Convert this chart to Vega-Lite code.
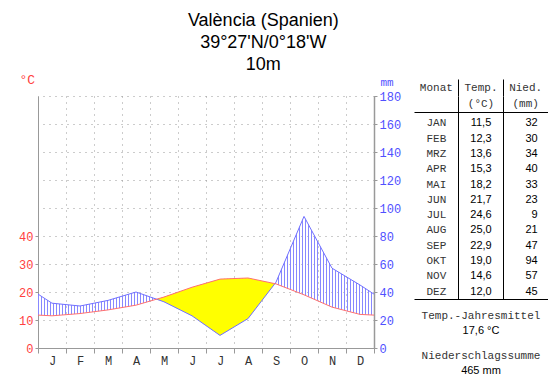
{
"$schema":"https://vega.github.io/schema/vega-lite/v6.json",
"padding":{"left":18,"top":12,"right":0,"bottom":0},
"bounds":"flush",
"spacing":40,
"title":{"text":["València (Spanien)","39°27'N/0°18'W","10m"],"font":"Liberation Sans","fontSize":18,"fontWeight":"normal","lineHeight":22,"color":"#000","anchor":"middle","dx":-20,"offset":-1},
"config":{
 "view":{"stroke":null},
 "font":"Liberation Sans",
 "locale":{"number":{"decimal":",","thousands":".","grouping":[3],"currency":["","\u00a0€"]}},
 "axis":{"labelFont":"Liberation Mono","labelFontSize":12,"domainColor":"#999","tickColor":"#999","titleFont":"Liberation Mono","titleFontWeight":"normal"}
},
"datasets":{
 "klima":[
  {"Monat":"Rand","nr":0.5,"temp":11.75,"nied":38.5,"typ":"Rand"},
  {"Monat":"JAN","nr":1,"temp":11.5,"nied":32,"typ":"Monat"},
  {"Monat":"FEB","nr":2,"temp":12.3,"nied":30,"typ":"Monat"},
  {"Monat":"MRZ","nr":3,"temp":13.6,"nied":34,"typ":"Monat"},
  {"Monat":"APR","nr":4,"temp":15.3,"nied":40,"typ":"Monat"},
  {"Monat":"Schnitt","nr":4.73,"temp":17.43,"nied":34.86,"typ":"Schnitt"},
  {"Monat":"MAI","nr":5,"temp":18.2,"nied":33,"typ":"Monat"},
  {"Monat":"JUN","nr":6,"temp":21.7,"nied":23,"typ":"Monat"},
  {"Monat":"JUL","nr":7,"temp":24.6,"nied":9,"typ":"Monat"},
  {"Monat":"AUG","nr":8,"temp":25.0,"nied":21,"typ":"Monat"},
  {"Monat":"Schnitt","nr":8.96,"temp":22.98,"nied":45.96,"typ":"Schnitt"},
  {"Monat":"SEP","nr":9,"temp":22.9,"nied":47,"typ":"Monat"},
  {"Monat":"OKT","nr":10,"temp":19.0,"nied":94,"typ":"Monat"},
  {"Monat":"NOV","nr":11,"temp":14.6,"nied":57,"typ":"Monat"},
  {"Monat":"DEZ","nr":12,"temp":12.0,"nied":45,"typ":"Monat"},
  {"Monat":"Rand","nr":12.5,"temp":11.75,"nied":38.5,"typ":"Rand"}
 ],
 "kopf":[
  {"spalte":"Monat","kopf":"Monat\n"},
  {"spalte":"Temp.","kopf":"Temp.\n(°C)"},
  {"spalte":"Nied.","kopf":"Nied.\n(mm)"}
 ],
 "summe":[
  {"k":"T","titel":"Temp.-Jahresmittel","wert":"17,6 °C"},
  {"k":"N","titel":"Niederschlagssumme","wert":"465 mm"}
 ]
},
"hconcat":[
 {
  "width":336,"height":252,
  "data":{"name":"klima"},
  "transform":[{"calculate":"datum.temp * 2","as":"temp_mm"}],
  "resolve":{"scale":{"y":"independent"},"axis":{"x":"independent"}},
  "layer":[
   {"mark":{"type":"area","stroke":null,"fill":{"gradient":"linear","x1":0,"y1":0,"x2":1,"y2":0,"stops":[
{"offset":0,"color":"#88f"},{"offset":0.00298,"color":"#88f"},{"offset":0.00298,"color":"transparent"},{"offset":0.00893,"color":"transparent"},
{"offset":0.00893,"color":"#88f"},{"offset":0.01191,"color":"#88f"},{"offset":0.01191,"color":"transparent"},{"offset":0.01786,"color":"transparent"},
{"offset":0.01786,"color":"#88f"},{"offset":0.02084,"color":"#88f"},{"offset":0.02084,"color":"transparent"},{"offset":0.02679,"color":"transparent"},
{"offset":0.02679,"color":"#88f"},{"offset":0.02977,"color":"#88f"},{"offset":0.02977,"color":"transparent"},{"offset":0.03571,"color":"transparent"},
{"offset":0.03571,"color":"#88f"},{"offset":0.03869,"color":"#88f"},{"offset":0.03869,"color":"transparent"},{"offset":0.04464,"color":"transparent"},
{"offset":0.04464,"color":"#88f"},{"offset":0.04762,"color":"#88f"},{"offset":0.04762,"color":"transparent"},{"offset":0.05357,"color":"transparent"},
{"offset":0.05357,"color":"#88f"},{"offset":0.05655,"color":"#88f"},{"offset":0.05655,"color":"transparent"},{"offset":0.0625,"color":"transparent"},
{"offset":0.0625,"color":"#88f"},{"offset":0.06548,"color":"#88f"},{"offset":0.06548,"color":"transparent"},{"offset":0.07143,"color":"transparent"},
{"offset":0.07143,"color":"#88f"},{"offset":0.07441,"color":"#88f"},{"offset":0.07441,"color":"transparent"},{"offset":0.08036,"color":"transparent"},
{"offset":0.08036,"color":"#88f"},{"offset":0.08334,"color":"#88f"},{"offset":0.08334,"color":"transparent"},{"offset":0.08929,"color":"transparent"},
{"offset":0.08929,"color":"#88f"},{"offset":0.09227,"color":"#88f"},{"offset":0.09227,"color":"transparent"},{"offset":0.09821,"color":"transparent"},
{"offset":0.09821,"color":"#88f"},{"offset":0.10119,"color":"#88f"},{"offset":0.10119,"color":"transparent"},{"offset":0.10714,"color":"transparent"},
{"offset":0.10714,"color":"#88f"},{"offset":0.11012,"color":"#88f"},{"offset":0.11012,"color":"transparent"},{"offset":0.11607,"color":"transparent"},
{"offset":0.11607,"color":"#88f"},{"offset":0.11905,"color":"#88f"},{"offset":0.11905,"color":"transparent"},{"offset":0.125,"color":"transparent"},
{"offset":0.125,"color":"#88f"},{"offset":0.12798,"color":"#88f"},{"offset":0.12798,"color":"transparent"},{"offset":0.13393,"color":"transparent"},
{"offset":0.13393,"color":"#88f"},{"offset":0.13691,"color":"#88f"},{"offset":0.13691,"color":"transparent"},{"offset":0.14286,"color":"transparent"},
{"offset":0.14286,"color":"#88f"},{"offset":0.14584,"color":"#88f"},{"offset":0.14584,"color":"transparent"},{"offset":0.15179,"color":"transparent"},
{"offset":0.15179,"color":"#88f"},{"offset":0.15477,"color":"#88f"},{"offset":0.15477,"color":"transparent"},{"offset":0.16071,"color":"transparent"},
{"offset":0.16071,"color":"#88f"},{"offset":0.16369,"color":"#88f"},{"offset":0.16369,"color":"transparent"},{"offset":0.16964,"color":"transparent"},
{"offset":0.16964,"color":"#88f"},{"offset":0.17262,"color":"#88f"},{"offset":0.17262,"color":"transparent"},{"offset":0.17857,"color":"transparent"},
{"offset":0.17857,"color":"#88f"},{"offset":0.18155,"color":"#88f"},{"offset":0.18155,"color":"transparent"},{"offset":0.1875,"color":"transparent"},
{"offset":0.1875,"color":"#88f"},{"offset":0.19048,"color":"#88f"},{"offset":0.19048,"color":"transparent"},{"offset":0.19643,"color":"transparent"},
{"offset":0.19643,"color":"#88f"},{"offset":0.19941,"color":"#88f"},{"offset":0.19941,"color":"transparent"},{"offset":0.20536,"color":"transparent"},
{"offset":0.20536,"color":"#88f"},{"offset":0.20834,"color":"#88f"},{"offset":0.20834,"color":"transparent"},{"offset":0.21429,"color":"transparent"},
{"offset":0.21429,"color":"#88f"},{"offset":0.21727,"color":"#88f"},{"offset":0.21727,"color":"transparent"},{"offset":0.22321,"color":"transparent"},
{"offset":0.22321,"color":"#88f"},{"offset":0.22619,"color":"#88f"},{"offset":0.22619,"color":"transparent"},{"offset":0.23214,"color":"transparent"},
{"offset":0.23214,"color":"#88f"},{"offset":0.23512,"color":"#88f"},{"offset":0.23512,"color":"transparent"},{"offset":0.24107,"color":"transparent"},
{"offset":0.24107,"color":"#88f"},{"offset":0.24405,"color":"#88f"},{"offset":0.24405,"color":"transparent"},{"offset":0.25,"color":"transparent"},
{"offset":0.25,"color":"#88f"},{"offset":0.25298,"color":"#88f"},{"offset":0.25298,"color":"transparent"},{"offset":0.25893,"color":"transparent"},
{"offset":0.25893,"color":"#88f"},{"offset":0.26191,"color":"#88f"},{"offset":0.26191,"color":"transparent"},{"offset":0.26786,"color":"transparent"},
{"offset":0.26786,"color":"#88f"},{"offset":0.27084,"color":"#88f"},{"offset":0.27084,"color":"transparent"},{"offset":0.27679,"color":"transparent"},
{"offset":0.27679,"color":"#88f"},{"offset":0.27977,"color":"#88f"},{"offset":0.27977,"color":"transparent"},{"offset":0.28571,"color":"transparent"},
{"offset":0.28571,"color":"#88f"},{"offset":0.28869,"color":"#88f"},{"offset":0.28869,"color":"transparent"},{"offset":0.29464,"color":"transparent"},
{"offset":0.29464,"color":"#88f"},{"offset":0.29762,"color":"#88f"},{"offset":0.29762,"color":"transparent"},{"offset":0.30357,"color":"transparent"},
{"offset":0.30357,"color":"#88f"},{"offset":0.30655,"color":"#88f"},{"offset":0.30655,"color":"transparent"},{"offset":0.3125,"color":"transparent"},
{"offset":0.3125,"color":"#88f"},{"offset":0.31548,"color":"#88f"},{"offset":0.31548,"color":"transparent"},{"offset":0.32143,"color":"transparent"},
{"offset":0.32143,"color":"#88f"},{"offset":0.32441,"color":"#88f"},{"offset":0.32441,"color":"transparent"},{"offset":0.33036,"color":"transparent"},
{"offset":0.33036,"color":"#88f"},{"offset":0.33334,"color":"#88f"},{"offset":0.33334,"color":"transparent"},{"offset":0.33929,"color":"transparent"},
{"offset":0.33929,"color":"#88f"},{"offset":0.34227,"color":"#88f"},{"offset":0.34227,"color":"transparent"},{"offset":0.34821,"color":"transparent"},
{"offset":0.34821,"color":"#88f"},{"offset":0.35119,"color":"#88f"},{"offset":0.35119,"color":"transparent"},{"offset":0.35714,"color":"transparent"},
{"offset":0.35714,"color":"#88f"},{"offset":0.36012,"color":"#88f"},{"offset":0.36012,"color":"transparent"},{"offset":0.36607,"color":"transparent"},
{"offset":0.36607,"color":"#88f"},{"offset":0.36905,"color":"#88f"},{"offset":0.36905,"color":"transparent"},{"offset":0.375,"color":"transparent"},
{"offset":0.375,"color":"#88f"},{"offset":0.37798,"color":"#88f"},{"offset":0.37798,"color":"transparent"},{"offset":0.38393,"color":"transparent"},
{"offset":0.38393,"color":"#88f"},{"offset":0.38691,"color":"#88f"},{"offset":0.38691,"color":"transparent"},{"offset":0.39286,"color":"transparent"},
{"offset":0.39286,"color":"#88f"},{"offset":0.39584,"color":"#88f"},{"offset":0.39584,"color":"transparent"},{"offset":0.40179,"color":"transparent"},
{"offset":0.40179,"color":"#88f"},{"offset":0.40477,"color":"#88f"},{"offset":0.40477,"color":"transparent"},{"offset":0.41071,"color":"transparent"},
{"offset":0.41071,"color":"#88f"},{"offset":0.41369,"color":"#88f"},{"offset":0.41369,"color":"transparent"},{"offset":0.41964,"color":"transparent"},
{"offset":0.41964,"color":"#88f"},{"offset":0.42262,"color":"#88f"},{"offset":0.42262,"color":"transparent"},{"offset":0.42857,"color":"transparent"},
{"offset":0.42857,"color":"#88f"},{"offset":0.43155,"color":"#88f"},{"offset":0.43155,"color":"transparent"},{"offset":0.4375,"color":"transparent"},
{"offset":0.4375,"color":"#88f"},{"offset":0.44048,"color":"#88f"},{"offset":0.44048,"color":"transparent"},{"offset":0.44643,"color":"transparent"},
{"offset":0.44643,"color":"#88f"},{"offset":0.44941,"color":"#88f"},{"offset":0.44941,"color":"transparent"},{"offset":0.45536,"color":"transparent"},
{"offset":0.45536,"color":"#88f"},{"offset":0.45834,"color":"#88f"},{"offset":0.45834,"color":"transparent"},{"offset":0.46429,"color":"transparent"},
{"offset":0.46429,"color":"#88f"},{"offset":0.46727,"color":"#88f"},{"offset":0.46727,"color":"transparent"},{"offset":0.47321,"color":"transparent"},
{"offset":0.47321,"color":"#88f"},{"offset":0.47619,"color":"#88f"},{"offset":0.47619,"color":"transparent"},{"offset":0.48214,"color":"transparent"},
{"offset":0.48214,"color":"#88f"},{"offset":0.48512,"color":"#88f"},{"offset":0.48512,"color":"transparent"},{"offset":0.49107,"color":"transparent"},
{"offset":0.49107,"color":"#88f"},{"offset":0.49405,"color":"#88f"},{"offset":0.49405,"color":"transparent"},{"offset":0.5,"color":"transparent"},
{"offset":0.5,"color":"#88f"},{"offset":0.50298,"color":"#88f"},{"offset":0.50298,"color":"transparent"},{"offset":0.50893,"color":"transparent"},
{"offset":0.50893,"color":"#88f"},{"offset":0.51191,"color":"#88f"},{"offset":0.51191,"color":"transparent"},{"offset":0.51786,"color":"transparent"},
{"offset":0.51786,"color":"#88f"},{"offset":0.52084,"color":"#88f"},{"offset":0.52084,"color":"transparent"},{"offset":0.52679,"color":"transparent"},
{"offset":0.52679,"color":"#88f"},{"offset":0.52977,"color":"#88f"},{"offset":0.52977,"color":"transparent"},{"offset":0.53571,"color":"transparent"},
{"offset":0.53571,"color":"#88f"},{"offset":0.53869,"color":"#88f"},{"offset":0.53869,"color":"transparent"},{"offset":0.54464,"color":"transparent"},
{"offset":0.54464,"color":"#88f"},{"offset":0.54762,"color":"#88f"},{"offset":0.54762,"color":"transparent"},{"offset":0.55357,"color":"transparent"},
{"offset":0.55357,"color":"#88f"},{"offset":0.55655,"color":"#88f"},{"offset":0.55655,"color":"transparent"},{"offset":0.5625,"color":"transparent"},
{"offset":0.5625,"color":"#88f"},{"offset":0.56548,"color":"#88f"},{"offset":0.56548,"color":"transparent"},{"offset":0.57143,"color":"transparent"},
{"offset":0.57143,"color":"#88f"},{"offset":0.57441,"color":"#88f"},{"offset":0.57441,"color":"transparent"},{"offset":0.58036,"color":"transparent"},
{"offset":0.58036,"color":"#88f"},{"offset":0.58334,"color":"#88f"},{"offset":0.58334,"color":"transparent"},{"offset":0.58929,"color":"transparent"},
{"offset":0.58929,"color":"#88f"},{"offset":0.59227,"color":"#88f"},{"offset":0.59227,"color":"transparent"},{"offset":0.59821,"color":"transparent"},
{"offset":0.59821,"color":"#88f"},{"offset":0.60119,"color":"#88f"},{"offset":0.60119,"color":"transparent"},{"offset":0.60714,"color":"transparent"},
{"offset":0.60714,"color":"#88f"},{"offset":0.61012,"color":"#88f"},{"offset":0.61012,"color":"transparent"},{"offset":0.61607,"color":"transparent"},
{"offset":0.61607,"color":"#88f"},{"offset":0.61905,"color":"#88f"},{"offset":0.61905,"color":"transparent"},{"offset":0.625,"color":"transparent"},
{"offset":0.625,"color":"#88f"},{"offset":0.62798,"color":"#88f"},{"offset":0.62798,"color":"transparent"},{"offset":0.63393,"color":"transparent"},
{"offset":0.63393,"color":"#88f"},{"offset":0.63691,"color":"#88f"},{"offset":0.63691,"color":"transparent"},{"offset":0.64286,"color":"transparent"},
{"offset":0.64286,"color":"#88f"},{"offset":0.64584,"color":"#88f"},{"offset":0.64584,"color":"transparent"},{"offset":0.65179,"color":"transparent"},
{"offset":0.65179,"color":"#88f"},{"offset":0.65477,"color":"#88f"},{"offset":0.65477,"color":"transparent"},{"offset":0.66071,"color":"transparent"},
{"offset":0.66071,"color":"#88f"},{"offset":0.66369,"color":"#88f"},{"offset":0.66369,"color":"transparent"},{"offset":0.66964,"color":"transparent"},
{"offset":0.66964,"color":"#88f"},{"offset":0.67262,"color":"#88f"},{"offset":0.67262,"color":"transparent"},{"offset":0.67857,"color":"transparent"},
{"offset":0.67857,"color":"#88f"},{"offset":0.68155,"color":"#88f"},{"offset":0.68155,"color":"transparent"},{"offset":0.6875,"color":"transparent"},
{"offset":0.6875,"color":"#88f"},{"offset":0.69048,"color":"#88f"},{"offset":0.69048,"color":"transparent"},{"offset":0.69643,"color":"transparent"},
{"offset":0.69643,"color":"#88f"},{"offset":0.69941,"color":"#88f"},{"offset":0.69941,"color":"transparent"},{"offset":0.70536,"color":"transparent"},
{"offset":0.70536,"color":"#88f"},{"offset":0.70834,"color":"#88f"},{"offset":0.70834,"color":"transparent"},{"offset":0.71429,"color":"transparent"},
{"offset":0.71429,"color":"#88f"},{"offset":0.71727,"color":"#88f"},{"offset":0.71727,"color":"transparent"},{"offset":0.72321,"color":"transparent"},
{"offset":0.72321,"color":"#88f"},{"offset":0.72619,"color":"#88f"},{"offset":0.72619,"color":"transparent"},{"offset":0.73214,"color":"transparent"},
{"offset":0.73214,"color":"#88f"},{"offset":0.73512,"color":"#88f"},{"offset":0.73512,"color":"transparent"},{"offset":0.74107,"color":"transparent"},
{"offset":0.74107,"color":"#88f"},{"offset":0.74405,"color":"#88f"},{"offset":0.74405,"color":"transparent"},{"offset":0.75,"color":"transparent"},
{"offset":0.75,"color":"#88f"},{"offset":0.75298,"color":"#88f"},{"offset":0.75298,"color":"transparent"},{"offset":0.75893,"color":"transparent"},
{"offset":0.75893,"color":"#88f"},{"offset":0.76191,"color":"#88f"},{"offset":0.76191,"color":"transparent"},{"offset":0.76786,"color":"transparent"},
{"offset":0.76786,"color":"#88f"},{"offset":0.77084,"color":"#88f"},{"offset":0.77084,"color":"transparent"},{"offset":0.77679,"color":"transparent"},
{"offset":0.77679,"color":"#88f"},{"offset":0.77977,"color":"#88f"},{"offset":0.77977,"color":"transparent"},{"offset":0.78571,"color":"transparent"},
{"offset":0.78571,"color":"#88f"},{"offset":0.78869,"color":"#88f"},{"offset":0.78869,"color":"transparent"},{"offset":0.79464,"color":"transparent"},
{"offset":0.79464,"color":"#88f"},{"offset":0.79762,"color":"#88f"},{"offset":0.79762,"color":"transparent"},{"offset":0.80357,"color":"transparent"},
{"offset":0.80357,"color":"#88f"},{"offset":0.80655,"color":"#88f"},{"offset":0.80655,"color":"transparent"},{"offset":0.8125,"color":"transparent"},
{"offset":0.8125,"color":"#88f"},{"offset":0.81548,"color":"#88f"},{"offset":0.81548,"color":"transparent"},{"offset":0.82143,"color":"transparent"},
{"offset":0.82143,"color":"#88f"},{"offset":0.82441,"color":"#88f"},{"offset":0.82441,"color":"transparent"},{"offset":0.83036,"color":"transparent"},
{"offset":0.83036,"color":"#88f"},{"offset":0.83334,"color":"#88f"},{"offset":0.83334,"color":"transparent"},{"offset":0.83929,"color":"transparent"},
{"offset":0.83929,"color":"#88f"},{"offset":0.84227,"color":"#88f"},{"offset":0.84227,"color":"transparent"},{"offset":0.84821,"color":"transparent"},
{"offset":0.84821,"color":"#88f"},{"offset":0.85119,"color":"#88f"},{"offset":0.85119,"color":"transparent"},{"offset":0.85714,"color":"transparent"},
{"offset":0.85714,"color":"#88f"},{"offset":0.86012,"color":"#88f"},{"offset":0.86012,"color":"transparent"},{"offset":0.86607,"color":"transparent"},
{"offset":0.86607,"color":"#88f"},{"offset":0.86905,"color":"#88f"},{"offset":0.86905,"color":"transparent"},{"offset":0.875,"color":"transparent"},
{"offset":0.875,"color":"#88f"},{"offset":0.87798,"color":"#88f"},{"offset":0.87798,"color":"transparent"},{"offset":0.88393,"color":"transparent"},
{"offset":0.88393,"color":"#88f"},{"offset":0.88691,"color":"#88f"},{"offset":0.88691,"color":"transparent"},{"offset":0.89286,"color":"transparent"},
{"offset":0.89286,"color":"#88f"},{"offset":0.89584,"color":"#88f"},{"offset":0.89584,"color":"transparent"},{"offset":0.90179,"color":"transparent"},
{"offset":0.90179,"color":"#88f"},{"offset":0.90477,"color":"#88f"},{"offset":0.90477,"color":"transparent"},{"offset":0.91071,"color":"transparent"},
{"offset":0.91071,"color":"#88f"},{"offset":0.91369,"color":"#88f"},{"offset":0.91369,"color":"transparent"},{"offset":0.91964,"color":"transparent"},
{"offset":0.91964,"color":"#88f"},{"offset":0.92262,"color":"#88f"},{"offset":0.92262,"color":"transparent"},{"offset":0.92857,"color":"transparent"},
{"offset":0.92857,"color":"#88f"},{"offset":0.93155,"color":"#88f"},{"offset":0.93155,"color":"transparent"},{"offset":0.9375,"color":"transparent"},
{"offset":0.9375,"color":"#88f"},{"offset":0.94048,"color":"#88f"},{"offset":0.94048,"color":"transparent"},{"offset":0.94643,"color":"transparent"},
{"offset":0.94643,"color":"#88f"},{"offset":0.94941,"color":"#88f"},{"offset":0.94941,"color":"transparent"},{"offset":0.95536,"color":"transparent"},
{"offset":0.95536,"color":"#88f"},{"offset":0.95834,"color":"#88f"},{"offset":0.95834,"color":"transparent"},{"offset":0.96429,"color":"transparent"},
{"offset":0.96429,"color":"#88f"},{"offset":0.96727,"color":"#88f"},{"offset":0.96727,"color":"transparent"},{"offset":0.97321,"color":"transparent"},
{"offset":0.97321,"color":"#88f"},{"offset":0.97619,"color":"#88f"},{"offset":0.97619,"color":"transparent"},{"offset":0.98214,"color":"transparent"},
{"offset":0.98214,"color":"#88f"},{"offset":0.98512,"color":"#88f"},{"offset":0.98512,"color":"transparent"},{"offset":0.99107,"color":"transparent"},
{"offset":0.99107,"color":"#88f"},{"offset":0.99405,"color":"#88f"},{"offset":0.99405,"color":"transparent"},{"offset":1,"color":"transparent"}
   ]}},
    "encoding":{
     "x":{"field":"nr","type":"quantitative","scale":{"domain":[0.5,12.5],"nice":false,"zero":false},
      "axis":{"orient":"bottom","values":[0.5,1.5,2.5,3.5,4.5,5.5,6.5,7.5,8.5,9.5,10.5,11.5,12.5],"labels":false,"title":null,"grid":true,"gridColor":"#999","gridDash":[1,5],"tickSize":5,"domainColor":"#999"}},
     "y":{"field":"nied","type":"quantitative","scale":{"domain":[0,180],"nice":false},
      "axis":{"orient":"right","values":[0,20,40,60,80,100,120,140,160,180],"grid":true,"gridColor":"#999","gridDash":[1,5],"tickSize":3,"labelPadding":2,"labelColor":"#5050ff","title":"mm","titleAngle":0,"titleX":6,"titleY":-14,"titleAlign":"left","titleBaseline":"middle","titleColor":"#5050ff","titleFontSize":11,"domainWidth":1.5}},
     "y2":{"field":"temp_mm"}
    }},
   {"transform":[{"filter":"datum.temp_mm >= datum.nied"}],
    "mark":{"type":"area","color":"#ffff00"},
    "encoding":{
     "x":{"field":"nr","type":"quantitative","scale":{"domain":[0.5,12.5],"nice":false,"zero":false},"axis":null},
     "y":{"field":"temp_mm","type":"quantitative","scale":{"domain":[0,180],"nice":false},"axis":null},
     "y2":{"field":"nied"}
    }},
   {"transform":[{"filter":"datum.typ !== 'Schnitt'"}],
    "mark":{"type":"line","color":"#7070ff","strokeWidth":1},
    "encoding":{
     "x":{"field":"nr","type":"quantitative","scale":{"domain":[0.5,12.5],"nice":false,"zero":false},"axis":null},
     "y":{"field":"nied","type":"quantitative","scale":{"domain":[0,180],"nice":false},"axis":null}
    }},
   {"transform":[{"filter":"datum.typ !== 'Schnitt'"}],
    "mark":{"type":"line","color":"#ff7070","strokeWidth":1},
    "encoding":{
     "x":{"field":"nr","type":"quantitative","scale":{"domain":[0.5,12.5],"nice":false,"zero":false},
      "axis":{"orient":"bottom","values":[1,2,3,4,5,6,7,8,9,10,11,12],"labelExpr":"['J','F','M','A','M','J','J','A','S','O','N','D'][datum.value - 1]","ticks":false,"tickSize":0,"grid":false,"domain":false,"title":null,"labelPadding":7,"labelColor":"#333"}},
     "y":{"field":"temp","type":"quantitative","scale":{"domain":[0,90],"nice":false},
      "axis":{"orient":"left","values":[0,10,20,30,40],"grid":false,"tickSize":3,"labelPadding":2,"labelColor":"#ff4040","title":"°C","titleAngle":0,"titleX":-19,"titleY":-17,"titleAlign":"left","titleBaseline":"middle","titleColor":"#ff4040","titleFontSize":13}}
    }}
  ]
 },
 {
  "spacing":0,
  "bounds":"flush",
  "vconcat":[
   {"width":134,"height":16,
    "data":{"name":"kopf"},
    "mark":{"type":"text","font":"Liberation Mono","fontSize":11,"lineBreak":"\n","lineHeight":16,"baseline":"middle","dy":-16,"color":"#333"},
    "encoding":{
     "x":{"field":"spalte","type":"nominal","sort":null,"scale":{"type":"band","domain":["Monat","Temp.","Nied."],"paddingInner":0,"paddingOuter":0},
      "axis":{"orient":"top","labels":false,"title":null,"domain":false,"ticks":true,"tickSize":17,"tickColor":{"condition":{"test":"datum.value === 'Monat'","value":"transparent"},"value":"#000"},"grid":true,"gridColor":{"condition":{"test":"datum.value === 'Monat'","value":"transparent"},"value":"#000"},"bandPosition":0}},
     "text":{"field":"kopf"}
    }},
   {"width":134,"height":187,
    "data":{"name":"klima"},
    "transform":[{"filter":"datum.typ === 'Monat'"}],
    "encoding":{"y":{"field":"Monat","type":"ordinal","scale":{"type":"point","domain":["JAN","FEB","MRZ","APR","MAI","JUN","JUL","AUG","SEP","OKT","NOV","DEZ"],"padding":0.622},"axis":null}},
    "layer":[
     {"mark":{"type":"text","font":"Liberation Mono","fontSize":11,"color":"#333","dy":2},
      "encoding":{"x":{"datum":"Monat","type":"nominal","scale":{"type":"band","domain":["Monat","Temp.","Nied."],"paddingInner":0,"paddingOuter":0},
        "axis":{"orient":"top","labels":false,"ticks":false,"title":null,"domain":true,"domainColor":"#000","grid":true,"gridColor":{"condition":{"test":"datum.value === 'Monat'","value":"transparent"},"value":"#000"},"bandPosition":0}},
       "text":{"field":"Monat"}}},
     {"mark":{"type":"text","fontSize":11,"color":"#000","dy":2},
      "encoding":{"x":{"datum":"Temp.","type":"nominal","scale":{"type":"band","domain":["Monat","Temp.","Nied."],"paddingInner":0,"paddingOuter":0},
        "axis":{"orient":"top","labels":false,"ticks":false,"title":null,"domain":true,"domainColor":"#000","grid":true,"gridColor":{"condition":{"test":"datum.value === 'Monat'","value":"transparent"},"value":"#000"},"bandPosition":0}},
       "text":{"field":"temp","type":"quantitative","format":".1f"}}},
     {"mark":{"type":"text","fontSize":11,"color":"#000","align":"right","dx":12,"dy":2},
      "encoding":{"x":{"datum":"Nied.","type":"nominal","scale":{"type":"band","domain":["Monat","Temp.","Nied."],"paddingInner":0,"paddingOuter":0},
        "axis":{"orient":"top","labels":false,"ticks":false,"title":null,"domain":true,"domainColor":"#000","grid":true,"gridColor":{"condition":{"test":"datum.value === 'Monat'","value":"transparent"},"value":"#000"},"bandPosition":0}},
       "text":{"field":"nied","type":"quantitative","format":"d"}}}
    ]},
   {"width":134,"height":80,
    "data":{"name":"summe"},
    "encoding":{
     "y":{"field":"k","type":"nominal","scale":{"type":"band","domain":["T","N"],"paddingInner":0,"paddingOuter":0},"axis":null},
     "x":{"datum":"mitte","type":"nominal","scale":{"type":"band","domain":["mitte"],"paddingInner":0,"paddingOuter":0},
      "axis":{"orient":"top","labels":false,"ticks":false,"grid":false,"title":null,"domain":true,"domainColor":"#000"}}
    },
    "layer":[
     {"mark":{"type":"text","font":"Liberation Mono","fontSize":11,"dy":-3,"color":"#333"},"encoding":{"text":{"field":"titel"}}},
     {"mark":{"type":"text","fontSize":11,"dy":11.5,"color":"#000"},"encoding":{"text":{"field":"wert"}}}
    ]}
  ]
 }
]
}
